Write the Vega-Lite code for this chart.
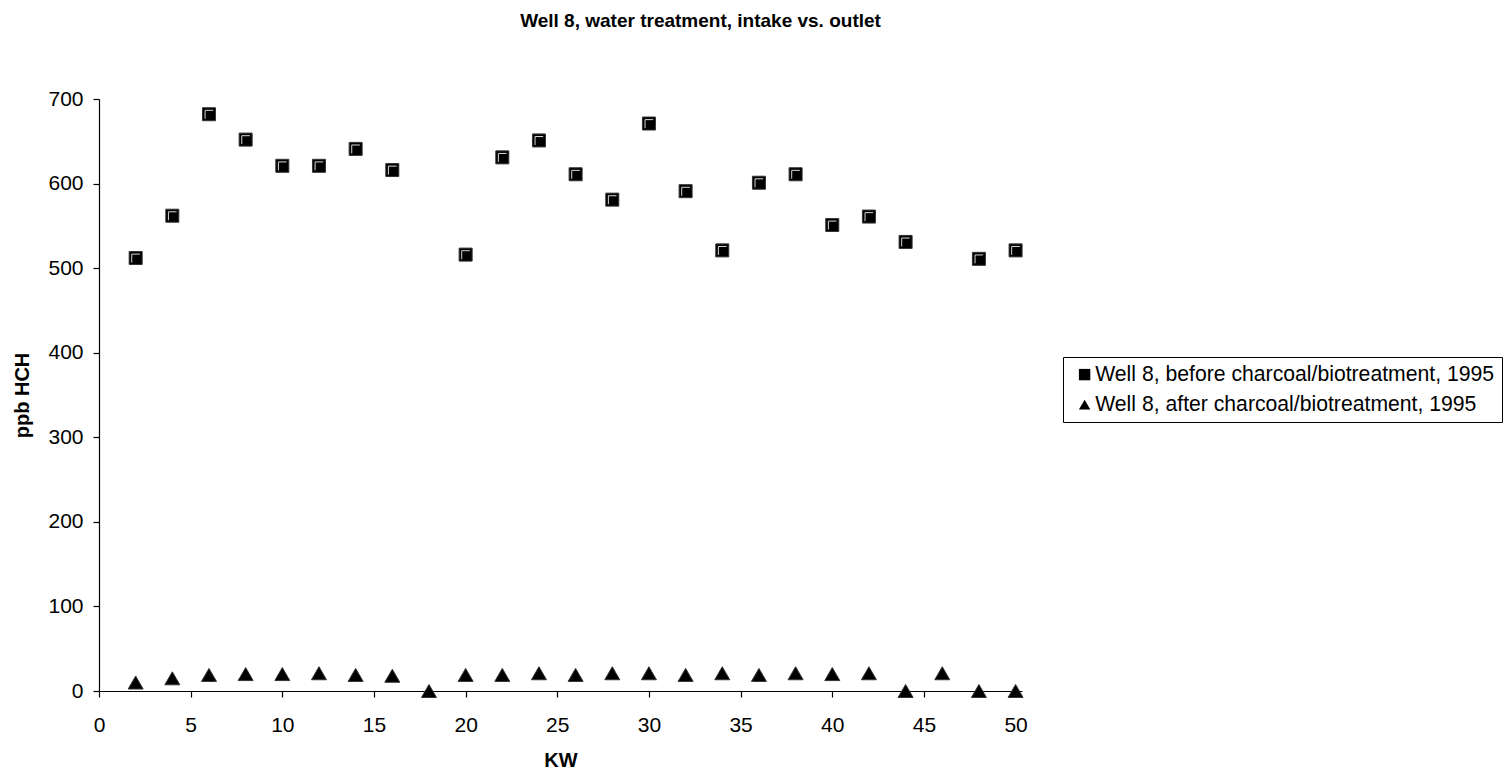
{
  "$schema": "https://vega.github.io/schema/vega-lite/v6.json",
  "width": 923,
  "height": 592,
  "autosize": "none",
  "padding": {"left": 99, "top": 99, "right": 484, "bottom": 82},
  "background": "white",
  "title": {
    "text": "Well 8, water treatment, intake vs. outlet",
    "font": "Liberation Sans",
    "fontSize": 19,
    "fontWeight": "bold",
    "color": "black",
    "anchor": "middle",
    "dx": 140,
    "offset": 57
  },
  "config": {
    "view": {"stroke": null},
    "font": "Liberation Sans",
    "axis": {
      "grid": false,
      "domainColor": "black",
      "domainWidth": 1.2,
      "tickColor": "black",
      "tickWidth": 1.2,
      "tickSize": 6,
      "labelFont": "Liberation Sans",
      "labelFontSize": 21,
      "labelColor": "black",
      "labelFlush": false,
      "titleFont": "Liberation Sans",
      "titleFontSize": 20,
      "titleFontWeight": "bold",
      "titleColor": "black"
    }
  },
  "data": {
    "values": [
      {"kw": 2, "ppb": 512, "series": "Well 8, before charcoal/biotreatment, 1995"},
      {"kw": 4, "ppb": 562, "series": "Well 8, before charcoal/biotreatment, 1995"},
      {"kw": 6, "ppb": 682, "series": "Well 8, before charcoal/biotreatment, 1995"},
      {"kw": 8, "ppb": 652, "series": "Well 8, before charcoal/biotreatment, 1995"},
      {"kw": 10, "ppb": 621, "series": "Well 8, before charcoal/biotreatment, 1995"},
      {"kw": 12, "ppb": 621, "series": "Well 8, before charcoal/biotreatment, 1995"},
      {"kw": 14, "ppb": 641, "series": "Well 8, before charcoal/biotreatment, 1995"},
      {"kw": 16, "ppb": 616, "series": "Well 8, before charcoal/biotreatment, 1995"},
      {"kw": 20, "ppb": 516, "series": "Well 8, before charcoal/biotreatment, 1995"},
      {"kw": 22, "ppb": 631, "series": "Well 8, before charcoal/biotreatment, 1995"},
      {"kw": 24, "ppb": 651, "series": "Well 8, before charcoal/biotreatment, 1995"},
      {"kw": 26, "ppb": 611, "series": "Well 8, before charcoal/biotreatment, 1995"},
      {"kw": 28, "ppb": 581, "series": "Well 8, before charcoal/biotreatment, 1995"},
      {"kw": 30, "ppb": 671, "series": "Well 8, before charcoal/biotreatment, 1995"},
      {"kw": 32, "ppb": 591, "series": "Well 8, before charcoal/biotreatment, 1995"},
      {"kw": 34, "ppb": 521, "series": "Well 8, before charcoal/biotreatment, 1995"},
      {"kw": 36, "ppb": 601, "series": "Well 8, before charcoal/biotreatment, 1995"},
      {"kw": 38, "ppb": 611, "series": "Well 8, before charcoal/biotreatment, 1995"},
      {"kw": 40, "ppb": 551, "series": "Well 8, before charcoal/biotreatment, 1995"},
      {"kw": 42, "ppb": 561, "series": "Well 8, before charcoal/biotreatment, 1995"},
      {"kw": 44, "ppb": 531, "series": "Well 8, before charcoal/biotreatment, 1995"},
      {"kw": 48, "ppb": 511, "series": "Well 8, before charcoal/biotreatment, 1995"},
      {"kw": 50, "ppb": 521, "series": "Well 8, before charcoal/biotreatment, 1995"},
      {"kw": 2, "ppb": 10, "series": "Well 8, after charcoal/biotreatment, 1995"},
      {"kw": 4, "ppb": 15, "series": "Well 8, after charcoal/biotreatment, 1995"},
      {"kw": 6, "ppb": 19, "series": "Well 8, after charcoal/biotreatment, 1995"},
      {"kw": 8, "ppb": 20, "series": "Well 8, after charcoal/biotreatment, 1995"},
      {"kw": 10, "ppb": 20, "series": "Well 8, after charcoal/biotreatment, 1995"},
      {"kw": 12, "ppb": 21, "series": "Well 8, after charcoal/biotreatment, 1995"},
      {"kw": 14, "ppb": 19, "series": "Well 8, after charcoal/biotreatment, 1995"},
      {"kw": 16, "ppb": 18, "series": "Well 8, after charcoal/biotreatment, 1995"},
      {"kw": 18, "ppb": 0, "series": "Well 8, after charcoal/biotreatment, 1995"},
      {"kw": 20, "ppb": 19, "series": "Well 8, after charcoal/biotreatment, 1995"},
      {"kw": 22, "ppb": 19, "series": "Well 8, after charcoal/biotreatment, 1995"},
      {"kw": 24, "ppb": 21, "series": "Well 8, after charcoal/biotreatment, 1995"},
      {"kw": 26, "ppb": 19, "series": "Well 8, after charcoal/biotreatment, 1995"},
      {"kw": 28, "ppb": 21, "series": "Well 8, after charcoal/biotreatment, 1995"},
      {"kw": 30, "ppb": 21, "series": "Well 8, after charcoal/biotreatment, 1995"},
      {"kw": 32, "ppb": 19, "series": "Well 8, after charcoal/biotreatment, 1995"},
      {"kw": 34, "ppb": 21, "series": "Well 8, after charcoal/biotreatment, 1995"},
      {"kw": 36, "ppb": 19, "series": "Well 8, after charcoal/biotreatment, 1995"},
      {"kw": 38, "ppb": 21, "series": "Well 8, after charcoal/biotreatment, 1995"},
      {"kw": 40, "ppb": 20, "series": "Well 8, after charcoal/biotreatment, 1995"},
      {"kw": 42, "ppb": 21, "series": "Well 8, after charcoal/biotreatment, 1995"},
      {"kw": 44, "ppb": 0, "series": "Well 8, after charcoal/biotreatment, 1995"},
      {"kw": 46, "ppb": 21, "series": "Well 8, after charcoal/biotreatment, 1995"},
      {"kw": 48, "ppb": 0, "series": "Well 8, after charcoal/biotreatment, 1995"},
      {"kw": 50, "ppb": 0, "series": "Well 8, after charcoal/biotreatment, 1995"}
    ]
  },
  "encoding": {
    "x": {
      "field": "kw",
      "type": "quantitative",
      "scale": {"domain": [0, 50.35], "nice": false, "zero": false},
      "axis": {
        "title": "KW",
        "values": [0, 5, 10, 15, 20, 25, 30, 35, 40, 45, 50],
        "labelPadding": 17,
        "titlePadding": 15
      }
    },
    "y": {
      "field": "ppb",
      "type": "quantitative",
      "scale": {"domain": [0, 700], "nice": false},
      "axis": {
        "title": "ppb HCH",
        "values": [0, 100, 200, 300, 400, 500, 600, 700],
        "labelPadding": 10,
        "titlePadding": 15
      }
    },
    "shape": {
      "field": "series",
      "type": "nominal",
      "scale": {
        "domain": ["Well 8, before charcoal/biotreatment, 1995", "Well 8, after charcoal/biotreatment, 1995"],
        "range": ["square", "triangle-up"]
      },
      "legend": {
        "title": null,
        "orient": "none",
        "legendX": 964,
        "legendY": 258,
        "labelFont": "Liberation Sans",
        "labelFontSize": 21.2,
        "labelColor": "black",
        "labelLimit": 600,
        "strokeColor": "black",
        "padding": 7,
        "symbolOffset": 4,
        "symbolSize": 130,
        "symbolFillColor": "black",
        "symbolStrokeColor": "black",
        "rowPadding": 8,
        "labelOffset": 0
      }
    }
  },
  "layer": [
    {
      "transform": [{"filter": "datum.series === 'Well 8, before charcoal/biotreatment, 1995'"}],
      "mark": {"type": "point", "filled": true, "color": "black", "stroke": "#333333", "strokeWidth": 1, "opacity": 1, "size": 169}
    },
    {
      "transform": [{"filter": "datum.series === 'Well 8, after charcoal/biotreatment, 1995'"}],
      "mark": {"type": "point", "filled": true, "color": "black", "stroke": "#333333", "strokeWidth": 1, "opacity": 1, "size": 225}
    },
    {
      "transform": [{"filter": "datum.series === 'Well 8, before charcoal/biotreatment, 1995'"}],
      "mark": {
        "type": "point",
        "filled": false,
        "stroke": "#d8d8d8",
        "strokeWidth": 1,
        "size": 169,
        "opacity": 1
      },
      "encoding": {"shape": {"value": "M-0.6,0.7L-0.6,-0.6L0.65,-0.6"}}
    }
  ]
}
